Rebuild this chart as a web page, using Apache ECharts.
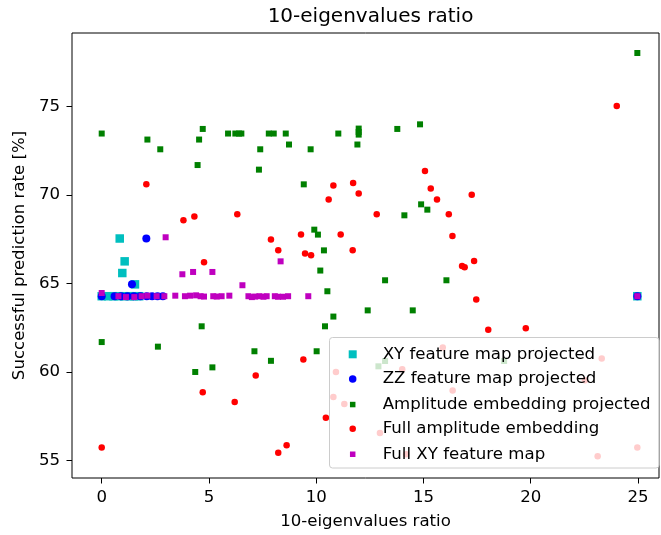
<!DOCTYPE html>
<html>
<head>
<meta charset="utf-8">
<script src="https://cdn.jsdelivr.net/npm/echarts@6/dist/echarts.min.js"></script>
<style>
  html, body { margin: 0; padding: 0; background: #ffffff; }
  #chart { width: 661px; height: 535px; }
</style>
</head>
<body>
<div id="chart"></div>
<script>
// Series labels (legend order = drawing order)
const seriesNames = [
  'XY feature map projected',
  'ZZ feature map projected',
  'Amplitude embedding projected',
  'Full amplitude embedding',
  'Full XY feature map'
];

// Tick labels
const xTicks = [0, 5, 10, 15, 20, 25];
const yTicks = [55, 60, 65, 70, 75];

// [eigenvalues ratio, success rate %]
const xyProjected = [
  [0, 64.27], [0.3, 64.27], [0.55, 64.27], [0.8, 64.27], [1.05, 64.27],
  [1.3, 64.27], [1.5, 64.27], [1.75, 64.27],
  [0.84, 67.53], [1.07, 66.24], [0.96, 65.58], [1.55, 64.94],
  [24.97, 64.27]
];

const zzProjected = [
  [0, 64.27], [0.6, 64.27], [0.9, 64.27], [1.2, 64.27], [1.5, 64.27],
  [1.8, 64.27], [2.1, 64.27], [2.35, 64.27], [2.6, 64.27], [2.85, 64.27],
  [1.41, 64.94], [2.08, 67.53],
  [24.97, 64.27]
];

const amplitudeProjected = [
  [0, 73.46], [2.13, 73.12], [2.73, 72.57], [4.71, 73.72], [4.54, 73.12],
  [4.47, 71.68], [5.89, 73.46], [6.23, 73.46], [6.40, 73.46], [6.51, 73.46],
  [7.39, 72.57], [7.33, 71.42], [7.79, 73.46], [8.02, 73.46], [8.58, 73.46],
  [8.73, 72.84], [9.42, 70.59], [9.74, 72.57], [11.03, 73.46],
  [11.98, 73.74], [11.98, 73.55], [11.98, 73.40], [11.92, 72.84],
  [13.78, 73.72], [14.84, 73.98], [24.97, 78.01],
  [9.91, 68.03], [10.08, 67.75], [10.36, 66.86], [10.19, 65.72], [10.52, 64.55],
  [12.40, 63.47], [10.80, 63.12], [10.41, 62.57], [4.66, 62.57], [0, 61.68],
  [2.62, 61.42], [7.12, 61.16], [10.02, 61.16], [7.89, 60.62],
  [14.89, 69.46], [15.18, 69.16], [14.11, 68.84], [13.21, 65.17], [16.07, 65.17],
  [14.50, 63.47], [4.36, 59.99], [5.16, 60.25],
  [12.90, 60.31], [13.21, 60.61], [18.76, 60.61]
];

const fullAmplitude = [
  [2.08, 70.59], [10.80, 70.52], [11.72, 70.67], [11.98, 70.07], [24.01, 75.02],
  [15.07, 71.35], [15.34, 70.35], [17.25, 70.00], [10.58, 69.73], [3.81, 68.56],
  [4.32, 68.77], [6.32, 68.90], [9.29, 67.75], [11.14, 67.75], [7.89, 67.47],
  [8.23, 66.86], [9.48, 66.68], [9.76, 66.58], [11.70, 66.86], [4.77, 66.19],
  [9.40, 60.70], [15.63, 69.73], [12.82, 68.90], [16.18, 68.90], [16.35, 67.67],
  [16.80, 65.98], [16.92, 65.90], [17.36, 66.26], [17.46, 64.08], [18.02, 62.38],
  [19.77, 62.46], [7.18, 59.79], [4.71, 58.84], [6.20, 58.30], [0, 55.72],
  [8.23, 55.43], [8.62, 55.85], [10.45, 57.41],
  [10.92, 59.99], [10.80, 58.58], [11.31, 58.18], [12.97, 56.54], [14.01, 60.14],
  [14.19, 55.34], [15.90, 61.37], [16.36, 58.95], [22.53, 59.52], [23.31, 60.75],
  [23.12, 55.23], [24.97, 55.72]
];

const fullXY = [
  [2.98, 67.60], [3.76, 65.51], [4.26, 65.64], [5.16, 65.64], [6.56, 64.89],
  [8.34, 66.24], [0, 64.45], [9.63, 64.27],
  [0.78, 64.27], [1.13, 64.22], [1.52, 64.22], [1.86, 64.27], [2.13, 64.30],
  [2.56, 64.27], [2.92, 64.27], [3.43, 64.30], [3.88, 64.27], [4.12, 64.30],
  [4.40, 64.32], [4.61, 64.27], [4.77, 64.25], [5.20, 64.27], [5.36, 64.25],
  [5.59, 64.27], [5.95, 64.30], [6.84, 64.27], [7.00, 64.22], [7.15, 64.25],
  [7.35, 64.27], [7.54, 64.24], [7.69, 64.27], [8.07, 64.27], [8.22, 64.24],
  [8.45, 64.24], [8.69, 64.27],
  [24.97, 64.27]
];

const palette = ['#00bfbf', '#0000ff', '#008000', '#ff0000', '#bf00bf'];
const plotSymbols = ['rect', 'circle', 'rect', 'circle', 'rect'];
const plotSizes = [8.5, 8, 6, 6.5, 6];
const legendSizes = [8, 7.5, 5.5, 6.5, 5.5];
const legendRowsY = [353.3, 377.7, 402.3, 427, 452];
const seriesData = [xyProjected, zzProjected, amplitudeProjected, fullAmplitude, fullXY];

const FONT = 'DejaVu Sans';
const chart = echarts.init(document.getElementById('chart'), null, { renderer: 'canvas' });

const MARKER_X = 352.7;
const TEXT_X = 382.7;
const ROW_SHIFT = -3.5;

const legends = seriesNames.map((name, i) => {
  const s = legendSizes[i];
  return {
    data: [{ name: name, icon: plotSymbols[i] }],
    orient: 'vertical',
    left: MARKER_X - s / 2,
    top: legendRowsY[i] - s / 2 + ROW_SHIFT,
    padding: 0,
    itemWidth: s,
    itemHeight: s,
    selectedMode: false,
    z: 20,
    textStyle: {
      fontFamily: FONT,
      fontSize: 16.6,
      color: '#000',
      padding: [0, 0, 0, TEXT_X - MARKER_X - s / 2 - 5]
    }
  };
});

const option = {
  backgroundColor: '#ffffff',
  animation: false,
  title: {
    text: '10-eigenvalues ratio',
    left: 365.5,
    textAlign: 'center',
    top: 2,
    textStyle: { fontFamily: FONT, fontSize: 20, fontWeight: 'normal', color: '#000' }
  },
  grid: {
    left: 72, right: 2, top: 33, bottom: 57,
    show: true, borderColor: '#000', borderWidth: 1, backgroundColor: 'transparent'
  },
  legend: legends,
  graphic: [{
    type: 'rect',
    z: 10,
    shape: { x: 329.5, y: 337.5, width: 329.5, height: 130.5, r: 3 },
    style: { fill: 'rgba(255,255,255,0.8)', stroke: '#cccccc', lineWidth: 1 }
  }],
  xAxis: {
    type: 'value',
    min: -1.385,
    max: 25.98,
    name: '10-eigenvalues ratio',
    nameLocation: 'middle',
    nameGap: 35,
    nameTextStyle: { fontFamily: FONT, fontSize: 16.6, color: '#000' },
    axisLine: { show: false, onZero: false },
    splitLine: { show: false },
    axisTick: { show: true, inside: false, length: 5.5, customValues: xTicks, lineStyle: { color: '#000', width: 1 } },
    axisLabel: { customValues: xTicks, margin: 11, fontFamily: FONT, fontSize: 16.6, color: '#000' }
  },
  yAxis: {
    type: 'value',
    min: 54.0,
    max: 79.14,
    name: 'Successful prediction rate [%]',
    nameLocation: 'middle',
    nameGap: 44,
    nameTextStyle: { fontFamily: FONT, fontSize: 16.6, color: '#000' },
    axisLine: { show: false, onZero: false },
    splitLine: { show: false },
    axisTick: { show: true, inside: false, length: 5.5, customValues: yTicks, lineStyle: { color: '#000', width: 1 } },
    axisLabel: { customValues: yTicks, margin: 12, fontFamily: FONT, fontSize: 16.6, color: '#000' }
  },
  series: seriesNames.map((name, i) => ({
    name: name,
    type: 'scatter',
    data: seriesData[i],
    symbol: plotSymbols[i],
    symbolSize: plotSizes[i],
    itemStyle: { color: palette[i], opacity: 1 },
    emphasis: { disabled: true },
    z: 2 + i * 0.01
  }))
};

chart.setOption(option);
</script>
</body>
</html>
